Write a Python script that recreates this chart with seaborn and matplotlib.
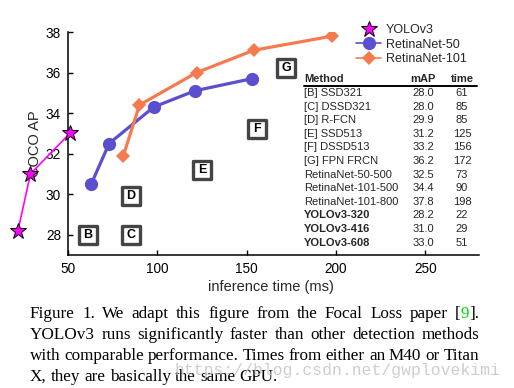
import matplotlib
matplotlib.use("Agg")
import matplotlib.pyplot as plt
import seaborn as sns
from matplotlib.lines import Line2D

# ---------------- data ----------------
yolo_time = [22, 29, 51]
yolo_map = [28.2, 31.0, 33.0]
r50_time = [63, 73, 98, 121, 153]
r50_map = [30.5, 32.5, 34.3, 35.1, 35.7]
r101_time = [81, 90, 122, 154, 198]
r101_map = [31.9, 34.4, 36.0, 37.1, 37.8]

box_letters = ["B", "C", "D", "E", "F", "G"]
box_time = [61, 85, 85, 125, 156, 172]
box_map = [28.0, 28.0, 29.9, 31.2, 33.2, 36.2]

table_methods = ["[B] SSD321", "[C] DSSD321", "[D] R-FCN", "[E] SSD513",
                 "[F] DSSD513", "[G] FPN FRCN", "RetinaNet-50-500",
                 "RetinaNet-101-500", "RetinaNet-101-800", "YOLOv3-320",
                 "YOLOv3-416", "YOLOv3-608"]
table_map = [28.0, 28.0, 29.9, 31.2, 33.2, 36.2, 32.5, 34.4, 37.8, 28.2, 31.0, 33.0]
table_time = [61, 85, 85, 125, 156, 172, 73, 90, 198, 22, 29, 51]
table_bold = [False] * 9 + [True] * 3

x_ticks = [50, 100, 150, 200, 250]
y_ticks = [28, 30, 32, 34, 36, 38]

caption_lines = [
    ["Figure", "1.", "We", "adapt", "this", "figure", "from", "the", "Focal",
     "Loss", "paper", [("[", "black"), ("9", "#00dd00"), ("].", "black")]],
    ["YOLOv3", "runs", "significantly", "faster", "than", "other",
     "detection", "methods"],
    ["with", "comparable", "performance.", "Times", "from", "either", "an",
     "M40", "or", "Titan"],
    ["X,", "they", "are", "basically", "the", "same", "GPU."],
]
watermark = "https://blog.csdn.net/gwplovekimi"

C_YOLO = "#ff00ff"
C_R50 = "#5b4fcf"
C_R101 = "#f57a4e"

# ---------------- figure ----------------
sns.set_style("ticks")
plt.rcParams["font.family"] = ["Liberation Sans", "DejaVu Sans"]

W, H = 514, 388
fig = plt.figure(figsize=(W / 100, H / 100), dpi=100)
fig.patch.set_facecolor("white")


def fx(x):
    return x / W


def fy(y):
    return 1 - y / H


ax = fig.add_axes([fx(68), fy(255), (479 - 68) / W, (255 - 32) / H])
ax.set_facecolor("white")

sns.lineplot(x=r50_time, y=r50_map, ax=ax, color=C_R50, lw=2.3, marker="o",
             markersize=9.5, markeredgecolor=C_R50, markeredgewidth=0,
             legend=False)
sns.lineplot(x=r101_time, y=r101_map, ax=ax, color=C_R101, lw=2.3, marker="D",
             markersize=7.5, markeredgecolor=C_R101, markeredgewidth=0,
             legend=False)
sns.lineplot(x=yolo_time, y=yolo_map, ax=ax, color=C_YOLO, lw=1.2, marker="*",
             markersize=12, markerfacecolor=C_YOLO, markeredgecolor="black",
             markeredgewidth=0.7, clip_on=False, legend=False, zorder=5)
for ln in ax.lines[-1:]:
    ln.set_clip_on(False)

# boxed letters
sns.scatterplot(x=box_time, y=box_map, ax=ax, marker="s", s=13.5 ** 2,
                color="white", edgecolor="#444444", linewidth=2.4,
                legend=False, zorder=3)
for t, m, L in zip(box_time, box_map, box_letters):
    ax.text(t, m, L, ha="center", va="center", fontsize=9, fontweight="bold",
            color="black", zorder=4)

ax.set_xlim(50, 280)
ax.set_ylim(27, 38)
ax.set_xticks(x_ticks)
ax.set_yticks(y_ticks)
ax.tick_params(direction="in", length=3.5, width=1, labelsize=9.8,
               colors="black", pad=5)
for s in ["left", "bottom"]:
    ax.spines[s].set_linewidth(1.1)
    ax.spines[s].set_color("black")
sns.despine(ax=ax)
ax.set_xlabel("inference time (ms)", fontsize=10.5)
ax.set_ylabel("COCO AP", fontsize=10.5)
ax.xaxis.set_label_coords((271 - 68) / (479 - 68), -(287 - 255) / (255 - 32))
ax.yaxis.set_label_coords(-(68 - 35) / (479 - 68), 0.5)
ax.xaxis.label.set_va("center")
ax.yaxis.label.set_va("center")

# legend
h_yolo = Line2D([], [], ls="none", marker="*", ms=12, mfc=C_YOLO, mec="black",
                mew=0.7)
h_r50 = Line2D([], [], color=C_R50, lw=1.2, marker="o", ms=9.5, mew=0)
h_r101 = Line2D([], [], color=C_R101, lw=1.2, marker="D", ms=7.5, mew=0)
fig.legend([h_yolo, h_r50, h_r101], ["YOLOv3", "RetinaNet-50", "RetinaNet-101"],
           loc="upper left", bbox_to_anchor=(fx(356), fy(24)),
           bbox_transform=fig.transFigure, frameon=False, fontsize=9,
           handlelength=2.0, handletextpad=0.4, labelspacing=0.2,
           borderpad=0, borderaxespad=0)

# table
TF = 8
fig.text(fx(304), fy(79), "Method", fontsize=TF, fontweight="bold", va="center")
fig.text(fx(423), fy(79), "mAP", fontsize=TF, fontweight="bold", va="center",
         ha="center")
fig.text(fx(462), fy(79), "time", fontsize=TF, fontweight="bold", va="center",
         ha="center")
fig.add_artist(Line2D([fx(304), fx(477)], [fy(86), fy(86)], color="black",
                      lw=1.4, transform=fig.transFigure))
for i, (mname, mv, tv, b) in enumerate(zip(table_methods, table_map,
                                           table_time, table_bold)):
    yy = 93 + i * 13.6
    fig.text(fx(304), fy(yy), mname, fontsize=TF, va="center",
             fontweight="bold" if b else "normal")
    fig.text(fx(423), fy(yy), f"{mv:.1f}", fontsize=TF, va="center", ha="center")
    fig.text(fx(462), fy(yy), f"{tv}", fontsize=TF, va="center", ha="center")

# caption (justified)
fig.canvas.draw()
renderer = fig.canvas.get_renderer()
SERIF = ["Liberation Serif", "DejaVu Serif"]


def width(s, fs, fam):
    t = fig.text(0, 0, s, fontsize=fs, family=fam)
    w = t.get_window_extent(renderer).width
    t.remove()
    return w


def word_str(w):
    return w if isinstance(w, str) else "".join(p for p, _ in w)


base_fs = 12
last = " ".join(word_str(w) for w in caption_lines[-1])
cap_fs = base_fs * 247 / width(last, base_fs, SERIF)

left, right = 30, 479
baselines = [318, 339, 360, 381]
space_w = width("a a", cap_fs, SERIF) - width("aa", cap_fs, SERIF)
for li, (words, yb) in enumerate(zip(caption_lines, baselines)):
    widths = [width(word_str(w), cap_fs, SERIF) for w in words]
    if li < len(caption_lines) - 1:
        gap = (right - left - sum(widths)) / (len(words) - 1)
    else:
        gap = space_w
    x = left
    for w, wd in zip(words, widths):
        if isinstance(w, str):
            fig.text(fx(x), fy(yb), w, fontsize=cap_fs, family=SERIF,
                     va="baseline", color="black")
        else:
            xx = x
            for piece, col in w:
                fig.text(fx(xx), fy(yb), piece, fontsize=cap_fs, family=SERIF,
                         va="baseline", color=col)
                xx += width(piece, cap_fs, SERIF)
        x += wd + gap

MONO = ["Liberation Mono", "DejaVu Sans Mono"]
wm_fs = 12 * 325 / width(watermark, 12, MONO)
fig.text(fx(175), fy(375), watermark, fontsize=wm_fs, family=MONO,
         color="#c8c8c8", va="baseline", alpha=0.9)

fig.savefig("out.png", dpi=100, facecolor="white")
